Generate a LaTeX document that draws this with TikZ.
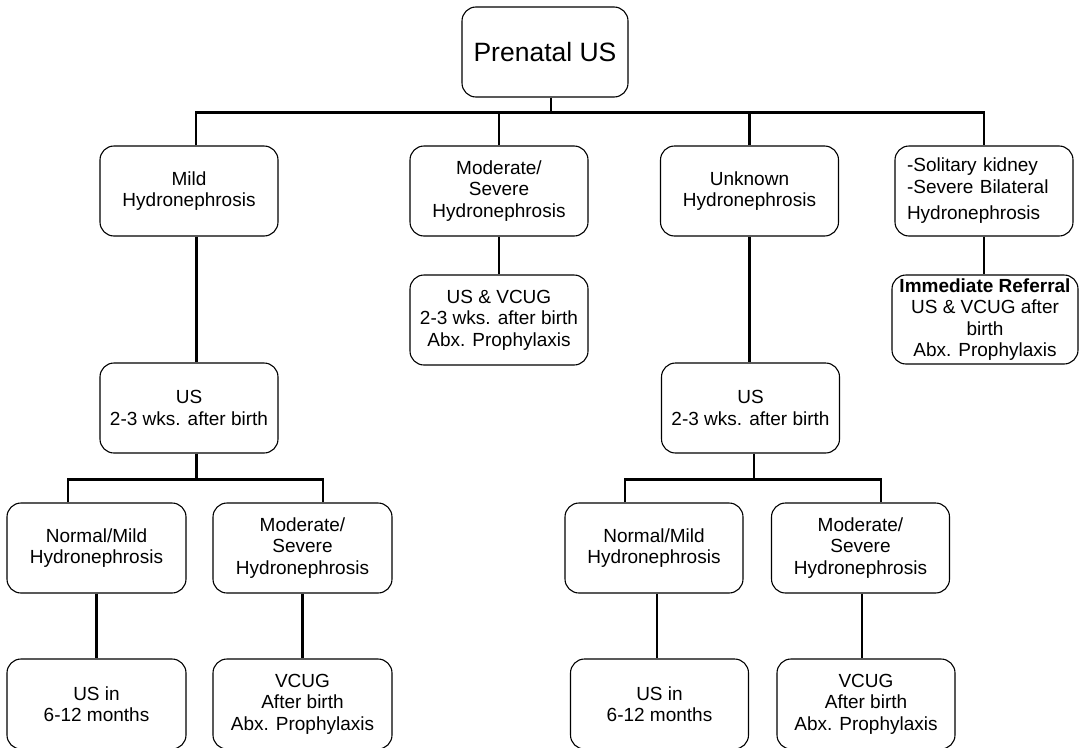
\documentclass[tikz,border=0pt]{standalone}
\usepackage{fontspec}
\setmainfont{Liberation Sans}
\usepackage{tikz}

\tikzset{
  box/.style={draw, rounded corners=14pt, line width=1.1pt, align=center,
    inner sep=0pt, minimum width=178pt, minimum height=90pt,
    font=\fontsize{19}{21.5}\selectfont},
  link/.style={line width=2.4pt}
}

\begin{document}
\begin{tikzpicture}[x=1pt, y=-1pt]
        \useasboundingbox (0,0) rectangle (1079,747);
        % first row
        \node[box, minimum width=166pt, font=\fontsize{26.5}{30}\selectfont] (pre) at (545,52) {Prenatal US};
        \node[box] (mild) at (189,191) {Mild\\Hydronephrosis};
        \node[box] (mod) at (499,191) {Moderate/\\Severe\\Hydronephrosis};
        \node[box] (unk) at (749.5,191) {Unknown\\Hydronephrosis};
        \node[box, align=left, text width=154pt] (sol) at (984,191) {-Solitary kidney\\-Severe Bilateral\\[5pt]Hydronephrosis};
        % second row
        \node[box] (usvcug) at (499,320) {US \& VCUG\\2-3 wks. after birth\\Abx. Prophylaxis};
        \node[box, minimum width=186pt, minimum height=89pt, font=\fontsize{19}{21.3}\selectfont] (refer) at (985,319.5) {\textbf{Immediate Referral}\\US \& VCUG after\\birth\\Abx. Prophylaxis};
        \node[box] (usl) at (189,408) {US\\2-3 wks. after birth};
        \node[box] (usr) at (750.5,408) {US\\2-3 wks. after birth};
        % third row
        \node[box, minimum width=179pt] (nml) at (96.5,548) {Normal/Mild\\Hydronephrosis};
        \node[box, minimum width=179pt] (modl) at (302.5,548) {Moderate/\\Severe\\Hydronephrosis};
        \node[box] (nmr) at (654,548) {Normal/Mild\\Hydronephrosis};
        \node[box] (modr) at (860.5,548) {Moderate/\\Severe\\Hydronephrosis};
        % last row
        \node[box, minimum width=179pt] (usinl) at (96.5,704) {US in\\6-12 months};
        \node[box, minimum width=179pt] (vcugl) at (302.5,704) {VCUG\\After birth\\Abx. Prophylaxis};
        \node[box] (usinr) at (659.5,704) {US in\\6-12 months};
        \node[box] (vcugr) at (866,704) {VCUG\\After birth\\Abx. Prophylaxis};
        % connectors
        \draw[link] ([xshift=7]mild.north) -- ++(0,-33) -| (sol.north);
        \draw[link] ([xshift=6]pre.south) -- ++(0,16);
        \draw[link] (mod.north) -- ++(0,-33);
        \draw[link] (unk.north) -- ++(0,-33);
        \draw[link] (mod.south) -- (usvcug.north);
        \draw[link] (sol.south) -- (sol.south |- refer.north);
        \draw[link] ([xshift=7.5]mild.south) -- ([xshift=7.5]usl.north);
        \draw[link] (unk.south) -- (unk.south |- usr.north);
        \draw[link] ([xshift=-28.5]nml.north) -- ++(0,-23) -| ([xshift=20.5]modl.north);
        \draw[link] ([xshift=7.5]usl.south) -- ++(0,27);
        \draw[link] ([xshift=-29]nmr.north) -- ++(0,-23) -| ([xshift=20.5]modr.north);
        \draw[link] ([xshift=3.5]usr.south) -- ++(0,27);
        \draw[link] (nml.south) -- (usinl.north);
        \draw[link] (modl.south) -- (vcugl.north);
        \draw[link] ([xshift=3]nmr.south) -- ([xshift=3]nmr.south |- usinr.north);
        \draw[link] ([xshift=1.5]modr.south) -- ([xshift=1.5]modr.south |- vcugr.north);
    \end{tikzpicture}
\end{document}
